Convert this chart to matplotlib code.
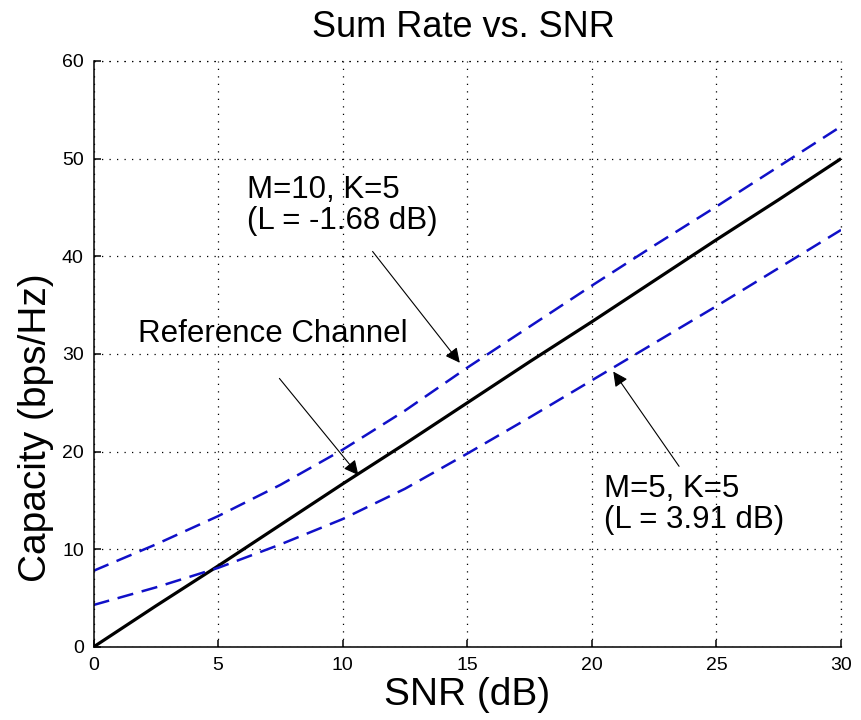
import matplotlib
matplotlib.use('Agg')
import matplotlib.pyplot as plt

# values
snr_db = [0, 2.5, 5, 7.5, 10, 12.5, 15, 17.5, 20, 22.5, 25, 27.5, 30]
cap_ref = [0, 4.2, 8.3, 12.5, 16.7, 20.8, 25.0, 29.2, 33.3, 37.5, 41.7, 45.8, 50.0]
cap_m10 = [7.8, 10.5, 13.4, 16.6, 20.2, 24.2, 28.6, 32.8, 37.0, 41.1, 45.1, 49.2, 53.3]
cap_m5 = [4.3, 6.1, 8.1, 10.5, 13.1, 16.2, 19.8, 23.5, 27.3, 31.1, 34.9, 38.8, 42.7]

x_ticks = [0, 5, 10, 15, 20, 25, 30]
y_ticks = [0, 10, 20, 30, 40, 50, 60]

plt.rcParams['font.family'] = ['Liberation Sans', 'DejaVu Sans']

fig = plt.figure(figsize=(8.61, 7.2), dpi=100)
ax = fig.add_axes([0.1086, 0.1014, 0.8682, 0.8139])

blue = '#1010c8'
ax.plot(snr_db, cap_ref, color='k', lw=2.3, solid_capstyle='butt')
ax.plot(snr_db, cap_m10, color=blue, lw=1.8, dashes=(6.5, 3.5))
ax.plot(snr_db, cap_m5, color=blue, lw=1.8, dashes=(6.5, 3.5))

ax.set_xlim(0, 30)
ax.set_ylim(0, 60)
ax.set_xticks(x_ticks)
ax.set_yticks(y_ticks)

# matlab look: only left/bottom axis lines, dotted grid, inward ticks
ax.spines['top'].set_visible(False)
ax.spines['right'].set_visible(False)
ax.spines['left'].set_linewidth(1.1)
ax.spines['bottom'].set_linewidth(1.1)
ax.grid(True, color='k', lw=0.9, dashes=(1, 5))
# close the box with dotted lines like the grid
ax.axhline(60, color='k', lw=0.9, dashes=(1, 5), clip_on=False)
ax.axvline(30, color='k', lw=0.9, dashes=(1, 5), clip_on=False)
ax.tick_params(direction='in', length=5, width=1.1, labelsize=14, pad=7)

# annotations
arrow = dict(arrowstyle='-|>', color='k', lw=0.8, mutation_scale=22,
             shrinkA=0, shrinkB=0)
ax.text(6.15, 48.3, 'M=10, K=5\n(L = -1.68 dB)', fontsize=22.5,
        va='top', ha='left', linespacing=1.05)
ax.annotate('', xy=(14.7, 29.1), xytext=(11.2, 40.5), arrowprops=arrow)

ax.text(1.79, 31.25, 'Reference Channel', fontsize=22.5, va='baseline', ha='left')
ax.annotate('', xy=(10.63, 17.6), xytext=(7.46, 27.5), arrowprops=arrow)

ax.text(20.5, 17.7, 'M=5, K=5\n(L = 3.91 dB)', fontsize=22.5,
        va='top', ha='left', linespacing=1.05)
ax.annotate('', xy=(20.86, 28.2), xytext=(23.5, 18.5), arrowprops=arrow)

fig.text(0.538, 0.949, 'Sum Rate vs. SNR', fontsize=26, ha='center', va='baseline')
ax.set_xlabel('SNR (dB)', fontsize=28)
ax.xaxis.set_label_coords(0.5, -0.052)
ax.set_ylabel('Capacity (bps/Hz)', fontsize=28)
ax.yaxis.set_label_coords(-0.0535, 0.375)

fig.savefig('out.png', dpi=100)
plt.close(fig)
